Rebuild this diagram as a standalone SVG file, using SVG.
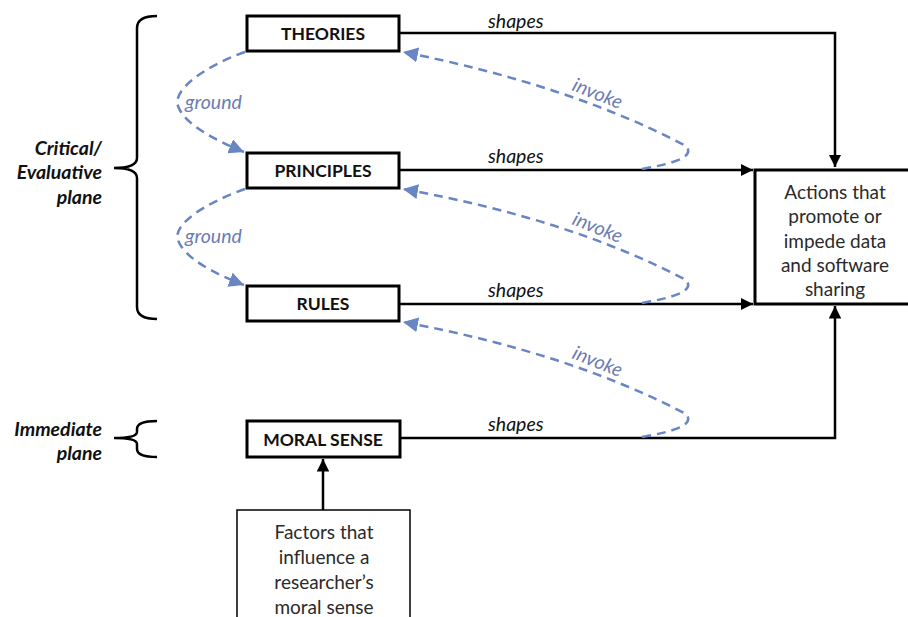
<svg xmlns="http://www.w3.org/2000/svg" width="908" height="617" viewBox="0 0 908 617">
<style>
  .box { fill: #fff; stroke: #000; stroke-width: 3; }
  .thin { fill: #fff; stroke: #000; stroke-width: 1.5; }
  .title { font-family: Lato, "Liberation Sans", sans-serif; font-weight: bold; font-size: 17.5px; fill: #111; text-anchor: middle; }
  .body { font-family: Lato, "Liberation Sans", sans-serif; font-size: 19px; fill: #2a2a2a; text-anchor: middle; }
  .plane { font-family: Lato, "Liberation Sans", sans-serif; font-weight: bold; font-style: italic; font-size: 19.5px; fill: #111; text-anchor: end; }
  .lbl { font-family: Lato, "Liberation Sans", sans-serif; font-style: italic; font-size: 19.5px; fill: #111; }
  .blbl { font-family: Lato, "Liberation Sans", sans-serif; font-style: italic; font-size: 19.5px; fill: #6a7cb4; }
  .conn { fill: none; stroke: #000; stroke-width: 2.5; }
  .dash { fill: none; stroke: #6886c4; stroke-width: 2.5; stroke-dasharray: 9 6; }
  .brace { fill: none; stroke: #000; stroke-width: 2.5; }
</style>
<defs>
  <marker id="ah" viewBox="0 0 10 10" refX="10" refY="5" markerWidth="5" markerHeight="5" orient="auto" markerUnits="strokeWidth">
    <path d="M0,0 L10,5 L0,10 z" fill="#000"/>
  </marker>
  <marker id="bh" viewBox="0 0 10 10" refX="10" refY="5" markerWidth="6" markerHeight="6" orient="auto" markerUnits="strokeWidth">
    <path d="M0,0 L10,5 L0,10 z" fill="#6886c4"/>
  </marker>
</defs>

<g id="braces">
  <path class="brace" d="M157,16 Q137,16 137,28 L137,158 Q137,168 114,168 Q137,168 137,178 L137,307 Q137,319 157,319"/>
  <path class="brace" d="M157,421 Q137,421 137,429 L137,432 Q137,438 114,438 Q137,438 137,444 L137,449 Q137,457 157,457"/>
  <text class="plane" x="102" y="155">Critical/</text>
  <text class="plane" x="102" y="179">Evaluative</text>
  <text class="plane" x="102" y="204">plane</text>
  <text class="plane" x="102" y="436">Immediate</text>
  <text class="plane" x="102" y="460">plane</text>
</g>

<g id="connectors">
  <path class="conn" d="M399,33 L835,33 L835,167" marker-end="url(#ah)"/>
  <path class="conn" d="M399,170 L753,170" marker-end="url(#ah)"/>
  <path class="conn" d="M399,304 L753,304" marker-end="url(#ah)"/>
  <path class="conn" d="M400,438 L835,438 L835,306" marker-end="url(#ah)"/>
  <path class="conn" d="M323,510 L323,459" marker-end="url(#ah)"/>
  <text class="lbl" x="488" y="28">shapes</text>
  <text class="lbl" x="488" y="163">shapes</text>
  <text class="lbl" x="488" y="297">shapes</text>
  <text class="lbl" x="488" y="431">shapes</text>

  <path class="dash" d="M245,52 C205,66 172,90 178,106 C184,124 215,140 244,152" marker-end="url(#bh)"/>
  <path class="dash" d="M245,189 C205,203 172,225 178,240 C184,258 215,274 244,285" marker-end="url(#bh)"/>
  <text class="blbl" x="185" y="109">ground</text>
  <text class="blbl" x="185" y="243">ground</text>

  <path class="dash" d="M642,169 C670,164 696,158 686,146 Q570,85 403,52" marker-end="url(#bh)"/>
  <path class="dash" d="M642,303 C670,298 696,292 686,280 Q570,219 403,189" marker-end="url(#bh)"/>
  <path class="dash" d="M642,437 C670,432 696,426 686,414 Q570,353 403,322" marker-end="url(#bh)"/>
  <text class="blbl" transform="translate(597,95) rotate(22)" text-anchor="middle" y="5">invoke</text>
  <text class="blbl" transform="translate(597,229) rotate(22)" text-anchor="middle" y="5">invoke</text>
  <text class="blbl" transform="translate(597,363) rotate(22)" text-anchor="middle" y="5">invoke</text>
</g>

<g id="theories">
  <rect class="box" x="247" y="16" width="152" height="35"/>
  <text class="title" x="323" y="40">THEORIES</text>
</g>
<g id="principles">
  <rect class="box" x="247" y="153" width="152" height="35"/>
  <text class="title" x="323" y="177">PRINCIPLES</text>
</g>
<g id="rules">
  <rect class="box" x="247" y="286" width="152" height="35"/>
  <text class="title" x="323" y="310">RULES</text>
</g>
<g id="moral-sense">
  <rect class="box" x="247" y="421" width="153" height="36"/>
  <text class="title" x="323" y="446">MORAL SENSE</text>
</g>
<g id="actions">
  <rect class="box" x="755" y="170" width="170" height="134"/>
  <text class="body" x="835" y="199">Actions that</text>
  <text class="body" x="835" y="223">promote or</text>
  <text class="body" x="835" y="248">impede data</text>
  <text class="body" x="835" y="272">and software</text>
  <text class="body" x="835" y="296">sharing</text>
</g>
<g id="factors">
  <rect class="thin" x="237" y="510" width="173" height="130"/>
  <text class="body" x="324" y="539">Factors that</text>
  <text class="body" x="324" y="564">influence a</text>
  <text class="body" x="324" y="589">researcher’s</text>
  <text class="body" x="324" y="614">moral sense</text>
</g>
</svg>
